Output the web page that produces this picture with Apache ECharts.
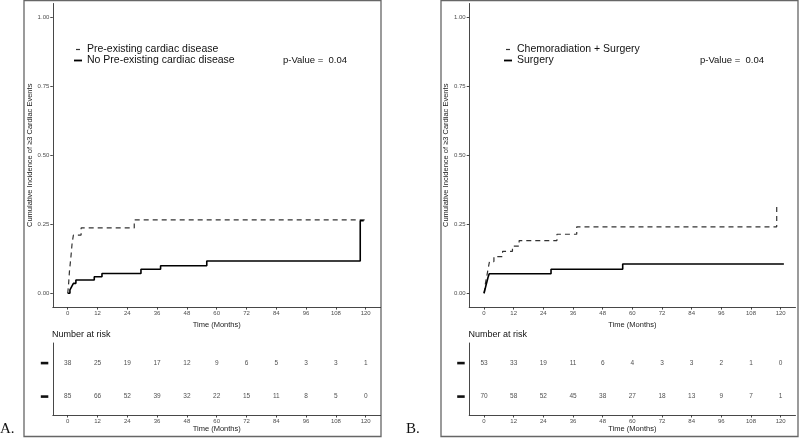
<!DOCTYPE html>
<html>
<head>
<meta charset="utf-8">
<script src="https://cdn.jsdelivr.net/npm/echarts@6/dist/echarts.min.js"></script>
<style>
html,body{margin:0;padding:0;background:#fff;}
#c{width:800px;height:438px;}
</style>
</head>
<body>
<div id="c"></div>
<script>
// ---------- DATA ----------
const xTicks = [0, 12, 24, 36, 48, 60, 72, 84, 96, 108, 120];
const yTicks = [0, 0.25, 0.5, 0.75, 1.0];

// Panel A
const namePre = 'Pre-existing cardiac disease';
const nameNo = 'No Pre-existing cardiac disease';
const timesPre = [0, 0.3, 0.7, 1.3, 1.8, 2.3, 5.4, 26.8, 120];
const incPre   = [0, 0.026, 0.079, 0.132, 0.184, 0.211, 0.237, 0.266, 0.266];
const timesNo  = [0, 0.9, 1.6, 2.3, 3.3, 10.7, 13.8, 29.5, 37.4, 56.0, 117.8, 119.2];
const incNo    = [0, 0.012, 0.024, 0.036, 0.048, 0.060, 0.072, 0.087, 0.100, 0.117, 0.263, 0.263];
const riskPre  = [38, 25, 19, 17, 12, 9, 6, 5, 3, 3, 1];
const riskNo   = [85, 66, 52, 39, 32, 22, 15, 11, 8, 5, 0];
const pValueA  = 'p-Value =  0.04';

// Panel B
const nameCRT = 'Chemoradiation + Surgery';
const nameSurg = 'Surgery';
const timesCRT = [0, 0.3, 0.6, 1.0, 1.4, 1.8, 2.2, 4.0, 7.5, 11.5, 14.2, 29.5, 37.5, 118.4];
const incCRT   = [0, 0.019, 0.038, 0.057, 0.076, 0.096, 0.115, 0.133, 0.152, 0.171, 0.191, 0.214, 0.241, 0.320];
const timesSurg = [0, 0.4, 0.8, 1.2, 1.6, 2.1, 27.1, 56.1, 121.3];
const incSurg   = [0, 0.014, 0.029, 0.043, 0.057, 0.071, 0.087, 0.106, 0.106];
const riskCRT  = [53, 33, 19, 11, 6, 4, 3, 3, 2, 1, 0];
const riskSurg = [70, 58, 52, 45, 38, 27, 18, 13, 9, 7, 1];
const pValueB  = 'p-Value =  0.04';

const yTitle = 'Cumulative Incidence of \u22653 Cardiac Events';
const xTitle = 'Time (Months)';
const riskTitle = 'Number at risk';

// ---------- BUILD ----------
const FONT = '"Liberation Sans", Arial, sans-serif';
const SERIF = '"Liberation Serif", "Times New Roman", serif';
const pair = (ts, vs) => ts.map((t, i) => [t, vs[i]]);
const riskData = (vals, row) => xTicks.map((t, i) => [t, row, vals[i]]);

const axisLineStyle = { color: '#333', width: 0.9 };
const tickLabel = { fontSize: 6, color: '#4d4d4d', fontFamily: FONT };

function xAxisFor(gridIndex) {
  return {
    type: 'value', gridIndex, min: -6, max: 126,
    axisLine: { show: true, onZero: false, lineStyle: axisLineStyle },
    axisTick: { show: true, length: 2.5, inside: false, customValues: xTicks, lineStyle: axisLineStyle },
    axisLabel: { show: true, margin: 3, customValues: xTicks, ...tickLabel },
    splitLine: { show: false },
    name: xTitle, nameLocation: 'middle', nameGap: 10,
    nameTextStyle: { fontSize: 7.5, color: '#222', fontFamily: FONT, verticalAlign: 'top' }
  };
}
function yMainFor(gridIndex) {
  return {
    type: 'value', gridIndex, min: -0.05, max: 1.05,
    axisLine: { show: true, onZero: false, lineStyle: axisLineStyle },
    axisTick: { show: true, length: 2.5, customValues: yTicks, lineStyle: axisLineStyle },
    axisLabel: { show: true, margin: 3.5, customValues: yTicks, formatter: v => v.toFixed(2), ...tickLabel },
    splitLine: { show: false },
    name: yTitle, nameLocation: 'middle', nameGap: 17, nameRotate: 90,
    nameTextStyle: { fontSize: 7.5, color: '#222', fontFamily: FONT }
  };
}
function yRiskFor(gridIndex) {
  return {
    type: 'value', gridIndex, min: 0.45, max: 2.6,
    axisLine: { show: true, onZero: false, lineStyle: axisLineStyle },
    axisTick: { show: false },
    axisLabel: {
      show: true, margin: 4.5, customValues: [1, 2],
      formatter: () => '{bar|}',
      rich: { bar: { width: 7.5, height: 2.6, backgroundColor: '#111' } }
    },
    splitLine: { show: false }
  };
}
const dashedStyle = { color: '#333', width: 1.2, type: [5, 4] };
const solidStyle = { color: '#000', width: 1.6, type: 'solid' };

function kmSeries(name, data, style, axisIndex) {
  return {
    type: 'line', name, data, step: 'end', symbol: 'none', showSymbol: false,
    xAxisIndex: axisIndex, yAxisIndex: axisIndex,
    lineStyle: style, itemStyle: { color: style.color }, silent: true
  };
}
function riskSeries(data, axisIndex) {
  return {
    type: 'scatter', data, xAxisIndex: axisIndex, yAxisIndex: axisIndex,
    symbolSize: 1, itemStyle: { color: 'transparent' }, silent: true,
    label: { show: true, position: 'inside', formatter: p => String(p.value[2]),
             fontSize: 6.5, color: '#222', fontFamily: FONT }
  };
}
// legend keys: 8x10 boxes, short dash for dashed line, full bar for solid
const iconDash = 'path://M0,0 M8,10 M2,4.4 H6 V5.6 H2 Z';
const iconSolid = 'path://M0,0 M8,10 M0,4.1 H8 V5.9 H0 Z';
function legendFor(left, n1, n2) {
  return {
    left, top: 44, orient: 'vertical', itemWidth: 8, itemHeight: 10, itemGap: 0,
    padding: 0, selectedMode: false,
    textStyle: { fontSize: 10.5, color: '#111', fontFamily: FONT, lineHeight: 10 },
    data: [
      { name: n1, icon: iconDash, itemStyle: { color: '#333' } },
      { name: n2, icon: iconSolid, itemStyle: { color: '#000' } }
    ]
  };
}
const plainText = (size, fam) => ({ fontSize: size, fontWeight: 'normal', color: '#111', fontFamily: fam || FONT });

const option = {
  animation: false,
  backgroundColor: '#fff',
  grid: [
    { left: 52.8, width: 327.8, top: 3.5, height: 303.6 },
    { left: 52.8, width: 327.8, top: 343, height: 72 },
    { left: 469.2, width: 326.3, top: 3.5, height: 303.6 },
    { left: 469.2, width: 326.3, top: 343, height: 72 }
  ],
  xAxis: [xAxisFor(0), xAxisFor(1), xAxisFor(2), xAxisFor(3)],
  yAxis: [yMainFor(0), yRiskFor(1), yMainFor(2), yRiskFor(3)],
  legend: [legendFor(74, namePre, nameNo), legendFor(504, nameCRT, nameSurg)],
  title: [
    { text: pValueA, left: 283, top: 55, padding: 0, textStyle: plainText(9.5) },
    { text: pValueB, left: 700, top: 55, padding: 0, textStyle: plainText(9.5) },
    { text: riskTitle, left: 52, top: 330.5, padding: 0, textStyle: plainText(9) },
    { text: riskTitle, left: 468.5, top: 330.5, padding: 0, textStyle: plainText(9) },
    { text: 'A.', left: 0, top: 422, padding: 0, textStyle: plainText(15, SERIF) },
    { text: 'B.', left: 406, top: 422, padding: 0, textStyle: plainText(15, SERIF) }
  ],
  graphic: [
    { type: 'rect', shape: { x: 24, y: 0.5, width: 357, height: 436 }, style: { fill: 'none', stroke: '#666', lineWidth: 1.3 }, silent: true },
    { type: 'rect', shape: { x: 441, y: 0.5, width: 357, height: 436 }, style: { fill: 'none', stroke: '#666', lineWidth: 1.3 }, silent: true }
  ],
  series: [
    kmSeries(namePre, pair(timesPre, incPre), dashedStyle, 0),
    kmSeries(nameNo, pair(timesNo, incNo), solidStyle, 0),
    riskSeries(riskData(riskPre, 2), 1),
    riskSeries(riskData(riskNo, 1), 1),
    kmSeries(nameCRT, pair(timesCRT, incCRT), dashedStyle, 2),
    kmSeries(nameSurg, pair(timesSurg, incSurg), solidStyle, 2),
    riskSeries(riskData(riskCRT, 2), 3),
    riskSeries(riskData(riskSurg, 1), 3)
  ]
};
const chart = echarts.init(document.getElementById('c'), null, { renderer: 'canvas' });
chart.setOption(option);
</script>
</body>
</html>
